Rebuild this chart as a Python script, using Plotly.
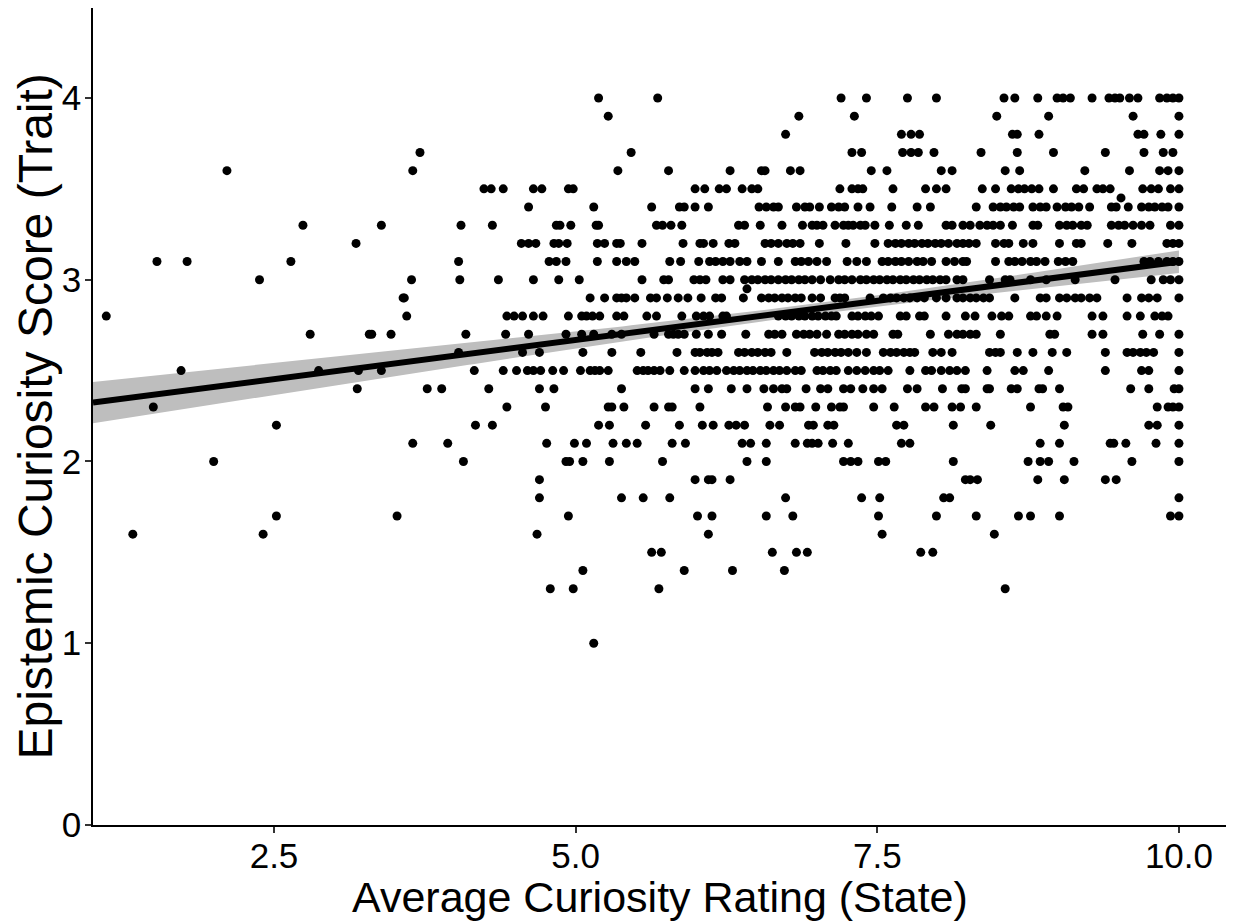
import numpy as np
import plotly.graph_objects as go

# Average state curiosity (x) for participants at each trait score level (y)
trait_4_0 = [5.19, 5.68, 7.20, 7.41, 7.75, 7.99, 8.55, 8.64, 8.83, 8.99, 9.04, 9.10, 9.28, 9.42, 9.47,
             9.51, 9.59, 9.66, 9.84, 9.90, 9.95, 10.0]
trait_3_9 = [5.27, 6.85, 7.31, 8.49, 8.92, 9.62, 10.0]
trait_3_8 = [6.74, 7.70, 7.78, 7.85, 8.62, 8.66, 8.84, 9.66, 9.71, 9.85, 10.0]
trait_3_7 = [3.71, 5.46, 7.29, 7.37, 7.71, 7.78, 7.84, 7.97, 8.36, 8.66, 8.96, 9.39, 9.71, 9.87, 9.95]
trait_3_6 = [2.11, 3.65, 5.35, 5.77, 6.28, 6.54, 6.57, 6.78, 6.86, 7.45, 7.58, 8.03, 8.12, 8.56, 8.68,
             9.22, 9.59, 9.84, 9.91, 10.0]
trait_3_5 = [4.24, 4.30, 4.40, 4.65, 4.72, 4.94, 4.98, 5.99, 6.07, 6.19, 6.25, 6.38, 6.46, 6.51, 7.19,
             7.29, 7.34, 7.38, 7.63, 7.90, 7.99, 8.07, 8.37, 8.48, 8.61, 8.67, 8.72, 8.78, 8.84, 8.96,
             9.15, 9.21, 9.32, 9.37, 9.43, 9.70, 9.77, 9.83, 9.93, 10.0]
trait_3_45 = [9.52]
trait_3_4 = [4.61, 5.15, 5.63, 5.86, 5.90, 5.99, 6.10, 6.52, 6.58, 6.64, 6.68, 6.83, 6.90, 6.94, 7.02,
             7.12, 7.18, 7.23, 7.34, 7.44, 7.62, 7.83, 7.94, 8.32, 8.46, 8.52, 8.57, 8.63, 8.68, 8.79,
             8.85, 8.90, 8.99, 9.06, 9.11, 9.17, 9.26, 9.44, 9.48, 9.58, 9.69, 9.75, 9.80, 9.86, 9.91,
             10.0]
trait_3_3 = [2.74, 3.39, 4.05, 4.31, 4.84, 4.87, 4.96, 5.17, 5.19, 5.67, 5.72, 5.79, 5.88, 6.35, 6.40,
             6.53, 6.71, 6.88, 6.96, 7.00, 7.05, 7.15, 7.22, 7.26, 7.30, 7.36, 7.40, 7.48, 7.60, 7.74,
             7.84, 8.07, 8.12, 8.21, 8.27, 8.35, 8.41, 8.46, 8.52, 8.62, 8.79, 8.83, 9.01, 9.07, 9.12,
             9.19, 9.24, 9.44, 9.50, 9.55, 9.62, 9.69, 9.76, 9.93, 10.0]
trait_3_2 = [3.18, 4.55, 4.61, 4.67, 4.82, 4.86, 4.93, 5.18, 5.24, 5.34, 5.37, 5.55, 5.89, 6.03, 6.06,
             6.14, 6.27, 6.32, 6.57, 6.62, 6.68, 6.75, 6.80, 6.86, 7.02, 7.24, 7.48, 7.59, 7.65, 7.70,
             7.76, 7.81, 7.87, 7.92, 7.98, 8.03, 8.09, 8.16, 8.21, 8.26, 8.32, 8.48, 8.55, 8.59, 8.71,
             8.79, 9.01, 9.15, 9.19, 9.41, 9.61, 9.90, 9.95, 10.0]
trait_3_1 = [1.53, 1.78, 2.64, 4.03, 4.78, 4.84, 4.92, 5.18, 5.34, 5.42, 5.49, 5.78, 5.87, 6.02, 6.11,
             6.16, 6.22, 6.28, 6.36, 6.42, 6.54, 6.68, 6.82, 6.87, 6.93, 7.00, 7.08, 7.25, 7.33, 7.41,
             7.54, 7.59, 7.65, 7.70, 7.76, 7.83, 7.88, 7.95, 8.07, 8.14, 8.21, 8.24, 8.48, 8.59, 8.64,
             8.70, 8.77, 8.82, 8.89, 9.00, 9.06, 9.12, 9.71, 9.76, 9.83, 9.90, 9.95, 10.0]
trait_3_0 = [2.38, 3.64, 4.04, 4.36, 4.65, 4.86, 5.03, 5.55, 5.73, 5.77, 5.98, 6.03, 6.08, 6.22, 6.28,
             6.40, 6.46, 6.51, 6.57, 6.62, 6.68, 6.74, 6.79, 6.85, 6.90, 6.96, 7.03, 7.11, 7.18, 7.23,
             7.29, 7.36, 7.41, 7.47, 7.52, 7.58, 7.63, 7.69, 7.74, 7.80, 7.85, 7.91, 7.96, 8.02, 8.07,
             8.16, 8.21, 8.43, 8.56, 8.60, 8.77, 8.90, 9.14, 9.47, 9.77, 9.87, 9.93, 10.0]
trait_2_95 = [6.42]
trait_2_9 = [3.57, 3.58, 5.12, 5.24, 5.34, 5.38, 5.42, 5.49, 5.62, 5.67, 5.76, 5.85, 5.93, 6.04, 6.16,
             6.21, 6.39, 6.54, 6.60, 6.65, 6.71, 6.76, 6.82, 6.87, 6.96, 7.03, 7.15, 7.19, 7.23, 7.44,
             7.55, 7.61, 7.66, 7.72, 7.77, 7.83, 7.89, 7.99, 8.07, 8.16, 8.21, 8.27, 8.32, 8.38, 8.43,
             8.64, 8.85, 8.90, 9.01, 9.07, 9.14, 9.19, 9.26, 9.32, 9.57, 9.69, 9.75, 9.82, 10.0]
trait_2_8 = [1.11, 3.60, 4.43, 4.49, 4.56, 4.65, 4.73, 4.94, 5.05, 5.09, 5.14, 5.20, 5.34, 5.40, 5.59,
             5.67, 5.88, 6.00, 6.06, 6.11, 6.22, 6.25, 6.68, 6.74, 6.79, 6.85, 6.90, 6.96, 7.01, 7.07,
             7.12, 7.16, 7.29, 7.34, 7.40, 7.45, 7.51, 7.69, 7.74, 7.85, 7.89, 8.07, 8.23, 8.31, 8.45,
             8.53, 8.59, 8.77, 8.82, 8.90, 8.99, 9.28, 9.37, 9.57, 9.68, 9.80, 9.86, 9.91]
trait_2_7 = [2.80, 3.29, 3.31, 3.47, 4.09, 4.42, 4.61, 4.92, 5.05, 5.15, 5.30, 5.38, 5.65, 5.77, 5.81,
             5.85, 5.90, 6.00, 6.10, 6.21, 6.41, 6.60, 6.65, 6.71, 6.83, 6.89, 6.94, 7.00, 7.08, 7.18,
             7.23, 7.29, 7.34, 7.41, 7.47, 7.63, 7.67, 7.94, 8.09, 8.16, 8.21, 8.27, 8.32, 8.52, 8.93,
             8.97, 9.28, 9.37, 9.70, 9.84, 10.0]
trait_2_6 = [4.03, 4.56, 4.70, 5.06, 5.30, 5.54, 5.84, 5.99, 6.03, 6.09, 6.13, 6.18, 6.35, 6.40, 6.46,
             6.51, 6.57, 6.62, 6.75, 6.98, 7.04, 7.09, 7.15, 7.20, 7.26, 7.33, 7.41, 7.55, 7.61, 7.66,
             7.72, 7.77, 7.81, 7.96, 8.03, 8.12, 8.43, 8.48, 8.52, 8.66, 8.79, 8.95, 9.07, 9.39, 9.57,
             9.62, 9.68, 9.73, 9.79, 10.0]
trait_2_5 = [1.73, 2.87, 3.20, 3.39, 4.16, 4.40, 4.51, 4.60, 4.65, 4.71, 4.81, 4.90, 5.04, 5.12, 5.16,
             5.20, 5.27, 5.51, 5.56, 5.60, 5.65, 5.70, 5.78, 5.90, 5.99, 6.06, 6.11, 6.17, 6.25, 6.31,
             6.36, 6.42, 6.47, 6.53, 6.58, 6.64, 6.69, 6.75, 6.82, 6.87, 7.00, 7.05, 7.11, 7.16, 7.26,
             7.33, 7.40, 7.47, 7.52, 7.59, 7.77, 7.90, 7.95, 8.03, 8.10, 8.16, 8.23, 8.41, 8.64, 8.71,
             8.92, 9.39, 9.69, 9.75, 10.0]
trait_2_4 = [3.19, 3.77, 3.89, 4.28, 4.70, 4.82, 5.38, 5.99, 6.10, 6.29, 6.42, 6.56, 6.64, 6.71, 6.75,
             6.91, 7.03, 7.09, 7.22, 7.28, 7.38, 7.47, 7.54, 7.75, 7.83, 8.04, 8.20, 8.23, 8.41, 8.43,
             8.61, 8.66, 8.84, 8.87, 9.01, 9.60, 9.75, 9.96, 10.0]
trait_2_3 = [1.50, 4.43, 4.75, 5.27, 5.30, 5.40, 5.65, 5.77, 5.80, 6.03, 6.59, 6.74, 6.82, 6.86, 6.99,
             7.12, 7.19, 7.22, 7.47, 7.64, 7.90, 7.97, 8.12, 8.19, 8.32, 8.77, 9.04, 9.08, 9.82, 9.91,
             9.95, 10.0]
trait_2_2 = [2.52, 4.17, 4.31, 5.19, 5.28, 5.58, 5.86, 6.05, 6.14, 6.27, 6.33, 6.40, 6.61, 6.69, 6.93,
             6.97, 7.09, 7.14, 7.66, 7.72, 8.13, 8.44, 9.05, 9.75, 9.82, 10.0]
trait_2_1 = [3.65, 3.94, 4.76, 4.99, 5.09, 5.31, 5.42, 5.51, 5.80, 5.91, 6.38, 6.45, 6.58, 6.82, 6.92,
             6.96, 7.01, 7.13, 7.26, 7.70, 7.77, 8.85, 9.01, 9.43, 9.46, 9.56, 9.81, 10.0]
trait_2_0 = [2.00, 4.07, 4.92, 4.95, 5.06, 5.28, 5.72, 6.42, 6.58, 7.22, 7.28, 7.34, 7.51, 7.57, 8.13,
             8.75, 8.85, 8.92, 9.13, 9.61, 10.0]
trait_1_9 = [4.70, 5.99, 6.10, 6.13, 6.28, 8.23, 8.27, 8.33, 8.83, 9.05, 9.39, 9.48]
trait_1_8 = [4.70, 5.38, 5.56, 5.78, 6.74, 7.37, 7.52, 8.05, 8.10, 10.0]
trait_1_7 = [2.52, 3.52, 4.94, 6.01, 6.13, 6.58, 6.80, 7.51, 7.99, 8.32, 8.67, 8.77, 9.01, 9.93, 10.0]
trait_1_6 = [1.33, 2.41, 4.68, 6.10, 7.54, 8.47]
trait_1_5 = [5.63, 5.71, 6.63, 6.83, 6.92, 7.86, 7.96]
trait_1_4 = [5.06, 5.90, 6.30, 6.73]
trait_1_3 = [4.79, 4.98, 5.69, 8.56]
trait_1_0 = [5.15]

trait_levels = [
    (4.0, trait_4_0), (3.9, trait_3_9), (3.8, trait_3_8), (3.7, trait_3_7), (3.6, trait_3_6),
    (3.5, trait_3_5), (3.45, trait_3_45), (3.4, trait_3_4), (3.3, trait_3_3), (3.2, trait_3_2),
    (3.1, trait_3_1), (3.0, trait_3_0), (2.95, trait_2_95), (2.9, trait_2_9), (2.8, trait_2_8),
    (2.7, trait_2_7), (2.6, trait_2_6), (2.5, trait_2_5), (2.4, trait_2_4), (2.3, trait_2_3),
    (2.2, trait_2_2), (2.1, trait_2_1), (2.0, trait_2_0), (1.9, trait_1_9), (1.8, trait_1_8),
    (1.7, trait_1_7), (1.6, trait_1_6), (1.5, trait_1_5), (1.4, trait_1_4), (1.3, trait_1_3),
    (1.0, trait_1_0),
]

# Linear trend (fitted on the full sample) and its 95% confidence band
fit_x_ends = [1.0, 10.0]
fit_y_ends = [2.324, 3.099]
band_half_ends = [0.113, 0.062]
band_center_x = 7.0

x_ticks = [2.5, 5.0, 7.5, 10.0]
x_tick_labels = ["2.5", "5.0", "7.5", "10.0"]
y_ticks = [0, 1, 2, 3, 4]

state = np.array([x for _, xs in trait_levels for x in xs])
trait = np.array([lvl for lvl, xs in trait_levels for _ in xs])

slope = (fit_y_ends[1] - fit_y_ends[0]) / (fit_x_ends[1] - fit_x_ends[0])
intercept = fit_y_ends[0] - slope * fit_x_ends[0]
fit_x = np.linspace(fit_x_ends[0], fit_x_ends[1], 120)
fit_y = intercept + slope * fit_x

# Band half-width follows the usual lm form: sqrt(a + b * (x - xbar)^2)
d0 = (fit_x_ends[0] - band_center_x) ** 2
d1 = (fit_x_ends[1] - band_center_x) ** 2
b_coef = (band_half_ends[0] ** 2 - band_half_ends[1] ** 2) / (d0 - d1)
a_coef = band_half_ends[1] ** 2 - b_coef * d1
half = np.sqrt(a_coef + b_coef * (fit_x - band_center_x) ** 2)

fig = go.Figure()
fig.add_trace(go.Scatter(
    x=np.concatenate([fit_x, fit_x[::-1]]),
    y=np.concatenate([fit_y + half, (fit_y - half)[::-1]]),
    fill="toself", fillcolor="#BEBEBE", line=dict(width=0),
    mode="lines", hoverinfo="skip", showlegend=False,
))
fig.add_trace(go.Scatter(
    x=state, y=trait, mode="markers",
    marker=dict(color="black", size=9, line=dict(width=0)),
    showlegend=False,
))
fig.add_trace(go.Scatter(
    x=fit_x, y=fit_y, mode="lines",
    line=dict(color="black", width=6),
    showlegend=False,
))

font_family = "Liberation Sans, Arial, sans-serif"
fig.update_layout(
    width=1239, height=921,
    margin=dict(l=93, r=13, t=8, b=96),
    paper_bgcolor="white", plot_bgcolor="white",
    font=dict(family=font_family, color="black"),
    xaxis=dict(
        range=[1.0, 10.39], tickvals=x_ticks, ticktext=x_tick_labels,
        showline=True, linecolor="black", linewidth=1.5,
        ticks="outside", ticklen=6, tickwidth=1.5, tickcolor="#333333",
        tickfont=dict(size=35, color="black"), ticklabelstandoff=-7,
        showgrid=False, zeroline=False,
    ),
    yaxis=dict(
        range=[0, 4.495], tickvals=y_ticks,
        showline=True, linecolor="black", linewidth=1.5,
        ticks="outside", ticklen=6, tickwidth=1.5, tickcolor="#333333",
        tickfont=dict(size=35, color="black"), ticklabelstandoff=-3,
        showgrid=False, zeroline=False,
    ),
    annotations=[
        dict(text="Average Curiosity Rating (State)", xref="paper", yref="paper",
             x=0.5, y=0, xanchor="center", yanchor="middle", yshift=-72,
             showarrow=False, font=dict(size=43, color="black")),
        dict(text="Epistemic Curiosity Score (Trait)", xref="paper", yref="paper",
             x=0, y=0.5, xanchor="center", yanchor="middle", xshift=-58, textangle=-90,
             showarrow=False, font=dict(size=48, color="black")),
    ],
)

fig.write_html("out.html")
